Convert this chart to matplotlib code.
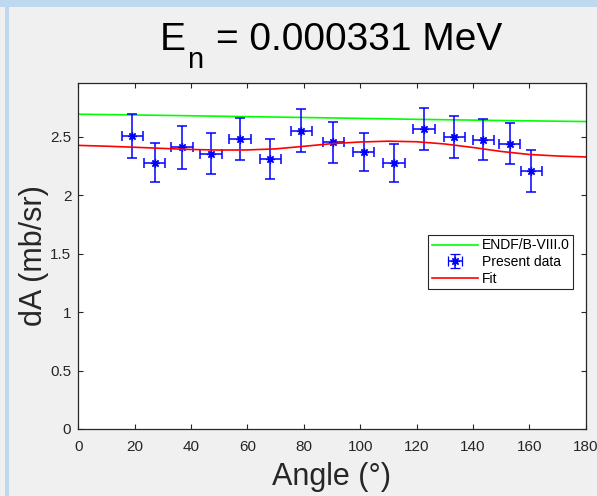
import matplotlib
matplotlib.use("Agg")
import matplotlib.pyplot as plt
from matplotlib.patches import Rectangle
from matplotlib.lines import Line2D
import numpy as np

# measured points (Present data)
angle = [19.2, 27.1, 36.8, 47.1, 57.4, 68.1, 79.1, 90.5, 101.2, 112.0, 122.7, 133.4, 143.7, 153.0, 160.7]
dA = [2.509, 2.278, 2.410, 2.358, 2.483, 2.310, 2.555, 2.453, 2.372, 2.278, 2.572, 2.500, 2.478, 2.444, 2.207]
dA_err = [0.188, 0.167, 0.180, 0.175, 0.178, 0.170, 0.185, 0.176, 0.166, 0.163, 0.180, 0.180, 0.174, 0.179, 0.178]
angle_err = [3.8, 3.8, 3.8, 3.8, 3.8, 3.8, 3.8, 3.8, 3.8, 3.8, 3.8, 3.8, 3.8, 3.8, 3.7]

# ENDF/B-VIII.0 curve
endf_angle = [0, 30, 60, 90, 120, 150, 180]
endf_dA = [2.695, 2.685, 2.674, 2.663, 2.651, 2.641, 2.632]

# fitted curve
fit_angle = [0, 10, 20, 30, 40, 50, 60, 70, 80, 90, 100, 110, 120, 130, 140, 150, 160, 170, 180]
fit_dA = [2.428, 2.421, 2.412, 2.402, 2.393, 2.388, 2.389, 2.398, 2.420, 2.443, 2.457, 2.464, 2.459, 2.440, 2.410, 2.376, 2.350, 2.337, 2.329]

plt.rcParams['font.family'] = ['Liberation Sans', 'DejaVu Sans']

dark = '#262626'
W, H = 597, 496

fig = plt.figure(figsize=(W / 100, H / 100), dpi=100, facecolor='#f0f0f0')
# window frame strips
fig.patches.append(Rectangle((0, 1 - 7 / H), 1, 7 / H, transform=fig.transFigure,
                             facecolor='#bed8ef', edgecolor='none'))
fig.patches.append(Rectangle((5 / W, 0), 4 / W, 1, transform=fig.transFigure,
                             facecolor='#bed8ef', edgecolor='none'))

ax = fig.add_axes([78.2 / W, 1 - 429 / H, (585.8 - 78.2) / W, (429 - 83) / H])
ax.set_facecolor('white')

ax.plot(endf_angle, endf_dA, color='#00ff00', lw=1.2)
ax.errorbar(angle, dA, yerr=dA_err, xerr=angle_err, fmt='none', ecolor='#0000ff',
            elinewidth=1.1, capsize=3.4, capthick=1.1)
ax.plot(angle, dA, ls='none', marker=(8, 2, 0), ms=6, mew=0.9, color='#0000ff')
ax.plot(fit_angle, fit_dA, color='#ff0000', lw=1.2)

# legend handles
h_endf = Line2D([], [], color='#00ff00', lw=1.2)
h_fit = Line2D([], [], color='#ff0000', lw=1.2)
h_data = ax.errorbar([-50], [-50], yerr=[0.1], xerr=[5], ecolor='#0000ff', color='#0000ff',
                     marker=(8, 2, 0), ms=6, mew=0.9, ls='none', elinewidth=1.1,
                     capsize=3.4, capthick=1.1)

ax.set_xlim(0, 180)
ax.set_ylim(0, 2.962)
ax.set_xticks(np.arange(0, 181, 20))
ax.set_yticks([0, 0.5, 1, 1.5, 2, 2.5])
ax.set_yticklabels(['0', '0.5', '1', '1.5', '2', '2.5'])
ax.tick_params(direction='in', length=3.6, width=0.8, colors=dark, labelsize=11,
               top=True, right=True)
ax.tick_params(axis='x', pad=8)
ax.tick_params(axis='y', pad=5)
for s in ax.spines.values():
    s.set_color(dark)
    s.set_linewidth(0.9)

ax.set_xlabel('Angle (°)', fontsize=22, color=dark, labelpad=6)
ax.set_ylabel('dA (mb/sr)', fontsize=22, color=dark, labelpad=1)

# title with a MATLAB-like low subscript
fig.text(160 / W, 1 - 50 / H, 'E', fontsize=28, ha='left', va='baseline')
fig.text(187 / W, 1 - 68 / H, 'n', fontsize=21, ha='left', va='baseline')
fig.text(216 / W, 1 - 50 / H, '= 0.000331 MeV', fontsize=28, ha='left', va='baseline')

leg = ax.legend([h_endf, h_data, h_fit], ['ENDF/B-VIII.0', 'Present data', 'Fit'],
                loc='upper right', bbox_to_anchor=(0.975, 0.561), borderaxespad=0,
                fontsize=10, handlelength=3.3, handletextpad=0.3, labelspacing=0.2,
                borderpad=0.25, fancybox=False, framealpha=1, edgecolor=dark)
leg.get_frame().set_linewidth(0.8)

fig.savefig('out.png', dpi=100, facecolor=fig.get_facecolor())
